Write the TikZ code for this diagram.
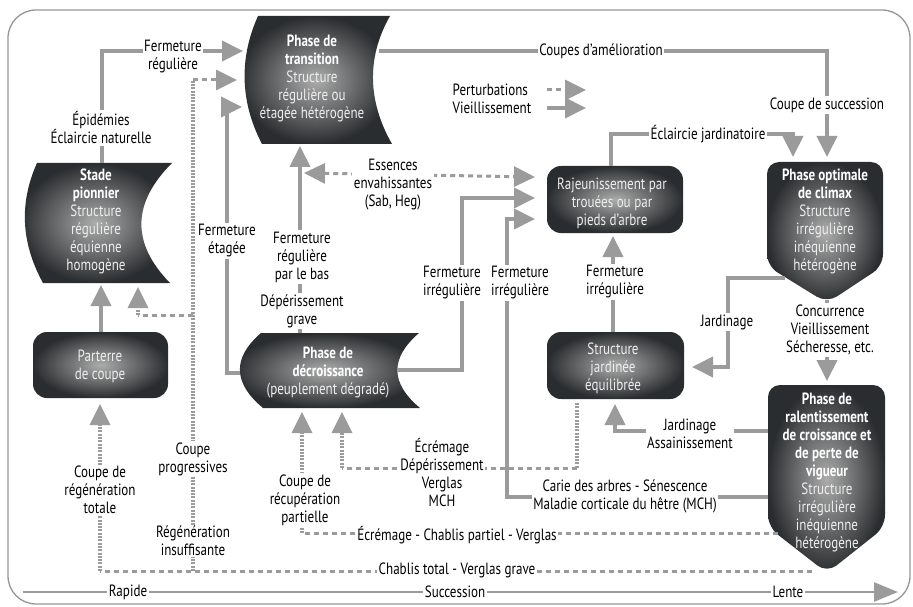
\documentclass[tikz,border=0pt]{standalone}
\usepackage{fontspec}
\setmainfont{PT Sans}[FakeStretch=0.80]
\usetikzlibrary{arrows.meta}
\definecolor{conn}{RGB}{155,155,155}
\definecolor{shdark}{RGB}{42,45,47}
\definecolor{shlight}{RGB}{172,172,172}
\definecolor{txtlight}{RGB}{238,238,238}
\definecolor{framec}{RGB}{150,150,150}
\newcommand\nfont{\fontsize{16.3}{18}\selectfont}
\newcommand\phtitle[1]{\textcolor{white}{\bfseries #1}}
\tikzset{
  shp/.style={inner color=shlight, outer color=shdark},
  intext/.style={align=center, text=txtlight, font=\nfont, inner sep=0pt},
  lbl/.style={fill=white, align=center, font=\nfont, inner sep=1.5pt, text=black},
  conline/.style={draw=conn, line width=4pt},
  dashline/.style={draw=conn, line width=3pt, dash pattern=on 5pt off 4pt},
  dotline/.style={draw=conn, line width=3.5pt, dash pattern=on 2pt off 1.3pt},
  arrtip/.style={-{Triangle[length=21pt,width=20pt]}},
  arrboth/.style={{Triangle[length=21pt,width=20pt]}-{Triangle[length=21pt,width=20pt]}},
}
\begin{document}
\begin{tikzpicture}[x=1pt,y=-1pt]
\useasboundingbox (0,0) rectangle (913,607);
\draw[framec, line width=1.3pt, rounded corners=28] (8,10) rectangle (910,604);

% ---------- shapes ----------
\shade[shp] (258,16) -- (390,16) .. controls (366,58) and (368,102) .. (392,144) -- (262,144) .. controls (240,102) and (239,58) .. cycle;
\shade[shp] (37,163) -- (172,163) .. controls (132,203) and (131,243) .. (170,283) -- (43,283) .. controls (21,243) and (19,203) .. cycle;
\shade[shp] (261,333) -- (419,333) .. controls (390,358) and (390,383) .. (420,408) -- (263,408) .. controls (233,383) and (232,358) .. cycle;
\shade[shp, rounded corners=14] (33,332) rectangle (168,398);
\shade[shp, rounded corners=14] (547,166) rectangle (683,233);
\shade[shp, rounded corners=14] (547,332) rectangle (684,399);
\shade[shp, rounded corners=12] (827,303) -- (767,266) -- (767,162) -- (883,162) -- (883,266) -- cycle;
\shade[shp, rounded corners=12] (827,573) -- (768,527) -- (768,385) -- (885,385) -- (885,527) -- cycle;

\node[intext] (trans) at (312,78) {\phtitle{Phase de}\\\phtitle{transition}\\Structure\\régulière ou\\étagée hétérogène};
\node[intext] (pion) at (96,221) {\phtitle{Stade}\\\phtitle{pionnier}\\Structure\\régulière\\équienne\\homogène};
\node[intext] (parterre) at (100,366) {Parterre\\de coupe};
\node[intext] (decr) at (328,373) {\phtitle{Phase de}\\\phtitle{décroissance}\\(peuplement dégradé)};
\node[intext] (rajeu) at (612,203) {Rajeunissement par\\trouées ou par\\pieds d’arbre};
\node[intext] (sjard) at (613,368) {Structure\\jardinée\\équilibrée};
\node[intext] (climax) at (825,221) {\phtitle{Phase optimale}\\\phtitle{de climax}\\Structure\\irrégulière\\inéquienne\\hétérogène};
\node[intext] (ralent) at (827,472) {\phtitle{Phase de}\\\phtitle{ralentissement}\\\phtitle{de croissance et}\\\phtitle{de perte de}\\\phtitle{vigueur}\\Structure\\irrégulière\\inéquienne\\hétérogène};

% ---------- coordinates ----------
\coordinate (pTop) at (102,163); \coordinate (aC1) at (102,51); \coordinate (tA) at (243,51);
\coordinate (rB) at (812,571); \coordinate (bC0) at (100,571); \coordinate (bC1) at (193,571);
\coordinate (parB) at (100,404); \coordinate (bC2) at (193,80); \coordinate (tB) at (237,80);
\coordinate (bC3) at (193,315); \coordinate (bC4) at (138,315); \coordinate (pB) at (138,287);
\coordinate (dL) at (240,373); \coordinate (cC1) at (227,373); \coordinate (cC2) at (227,107); \coordinate (tC) at (242,107);
\coordinate (dT) at (300,333); \coordinate (tD) at (300,146);
\coordinate (eL) at (304,173); \coordinate (eR) at (535,177);
\coordinate (dR) at (397,370); \coordinate (fC1) at (462,370); \coordinate (fC2) at (462,198); \coordinate (rjF) at (535,198);
\coordinate (rL) at (768,497); \coordinate (gC1) at (507,497); \coordinate (gC2) at (507,219); \coordinate (rjG) at (535,219);
\coordinate (sjT) at (613,332); \coordinate (rjB) at (613,236);
\coordinate (rjT) at (611,166); \coordinate (iC1) at (611,134); \coordinate (iC2) at (793,134); \coordinate (cmI) at (793,157);
\coordinate (tR) at (379,51); \coordinate (jC1) at (827,51); \coordinate (cmJ) at (827,157);
\coordinate (cmL) at (785,278); \coordinate (lC1) at (728,278); \coordinate (lC2) at (728,367); \coordinate (sjR) at (692,367);
\coordinate (cmB) at (827,300); \coordinate (raT) at (827,381);
\coordinate (raL) at (768,431); \coordinate (nC1) at (615,431); \coordinate (sjB) at (615,404);
\coordinate (sjB2) at (577,403); \coordinate (oC1) at (577,468); \coordinate (oC2) at (342,468); \coordinate (dB1) at (342,412);
\coordinate (raL2) at (778,533); \coordinate (pC1) at (302,533); \coordinate (dB2) at (302,412);
\coordinate (parT) at (101,332); \coordinate (pB2) at (101,285);
\coordinate (lg1a) at (547,90); \coordinate (lg1b) at (586,90);
\coordinate (lg2a) at (547,108); \coordinate (lg2b) at (586,108);
\coordinate (ax0) at (23,592); \coordinate (ax1) at (898,592);

% ---------- connectors ----------
\draw[dashline] (rB) -- (bC0);
\draw[dotline, arrtip] (bC0) -- (parB);
\draw[dotline] (bC1) -- (bC2);
\draw[dashline, arrtip] (bC2) -- (tB);
\draw[dashline] (bC3) -- (bC4);
\draw[dotline, arrtip] (bC4) -- (pB);
\draw[dotline] (sjB2) -- (oC1);
\draw[dashline] (oC1) -- (oC2);
\draw[dotline, arrtip] (oC2) -- (dB1);
\draw[dashline] (raL2) -- (pC1);
\draw[dotline, arrtip] (pC1) -- (dB2);
\draw[dashline, arrboth] (eL) -- (eR);
\draw[dashline, arrtip] (lg1a) -- (lg1b);

\draw[conline, arrtip] (pTop) -- (aC1) -- (tA);
\draw[conline, arrtip] (dL) -- (cC1) -- (cC2) -- (tC);
\draw[conline, arrtip] (dT) -- (tD);
\draw[conline, arrtip] (dR) -- (fC1) -- (fC2) -- (rjF);
\draw[conline, arrtip] (rL) -- (gC1) -- (gC2) -- (rjG);
\draw[conline, arrtip] (sjT) -- (rjB);
\draw[conline, arrtip] (rjT) -- (iC1) -- (iC2) -- (cmI);
\draw[conline, arrtip] (tR) -- (jC1) -- (cmJ);
\draw[conline, arrtip] (cmL) -- (lC1) -- (lC2) -- (sjR);
\draw[conline, arrtip] (cmB) -- (raT);
\draw[conline, arrtip] (raL) -- (nC1) -- (sjB);
\draw[conline, arrtip] (parT) -- (pB2);
\draw[conline, arrtip] (lg2a) -- (lg2b);
\draw[draw=conn, line width=2.5pt, -{Triangle[length=24pt,width=19pt]}] (ax0) -- (ax1);

% ---------- labels ----------
\node[lbl] (lA1) at (173,57) {Fermeture\\régulière};
\node[lbl] (lA2) at (101,128) {Épidémies\\Éclaircie naturelle};
\node[lbl] (lB1) at (457,570) {Chablis total - Verglas grave};
\node[lbl] (lB2) at (100,490) {Coupe de\\régénération\\totale};
\node[lbl] (lB3) at (193,459) {Coupe\\progressives};
\node[lbl] (lB4) at (193,541) {Régénération\\insuffisante};
\node[lbl] (lC) at (227,241) {Fermeture\\étagée};
\node[lbl] (lD1) at (302,257) {Fermeture\\régulière\\par le bas};
\node[lbl] (lD2) at (302,311) {Dépérissement\\grave};
\node[lbl] (lE) at (393,185) {Essences\\envahissantes\\(Sab, Heg)};
\node[lbl] (lF) at (452,283) {Fermeture\\irrégulière};
\node[lbl] (lG1) at (520,283) {Fermeture\\irrégulière};
\node[lbl] (lG2) at (625,496) {Carie des arbres - Sénescence\\Maladie corticale du hêtre (MCH)};
\node[lbl] (lH) at (615,282) {Fermeture\\irrégulière};
\node[lbl] (lI) at (708,134) {Éclaircie jardinatoire};
\node[lbl] (lJ1) at (601,51) {Coupes d’amélioration};
\node[lbl] (lJ2) at (827,105) {Coupe de succession};
\node[lbl] (lL) at (727,322) {Jardinage};
\node[lbl] (lM) at (830,330) {Concurrence\\Vieillissement\\Sécheresse, etc.};
\node[lbl] (lN) at (690,434) {Jardinage\\Assainissement};
\node[lbl] (lO) at (442,473) {Écrémage\\Dépérissement\\Verglas\\MCH};
\node[lbl] (lP1) at (457,535) {Écrémage - Chablis partiel - Verglas};
\node[lbl] (lP2) at (305,500) {Coupe de\\récupération\\partielle};
\node[lbl, anchor=west] (lg1) at (451,90) {Perturbations};
\node[lbl, anchor=west] (lg2) at (451,108) {Vieillissement};
\node[lbl] (ax1l) at (128,592) {Rapide};
\node[lbl] (ax2l) at (455,592) {Succession};
\node[lbl] (ax3l) at (788,592) {Lente};
\end{tikzpicture}
\end{document}
